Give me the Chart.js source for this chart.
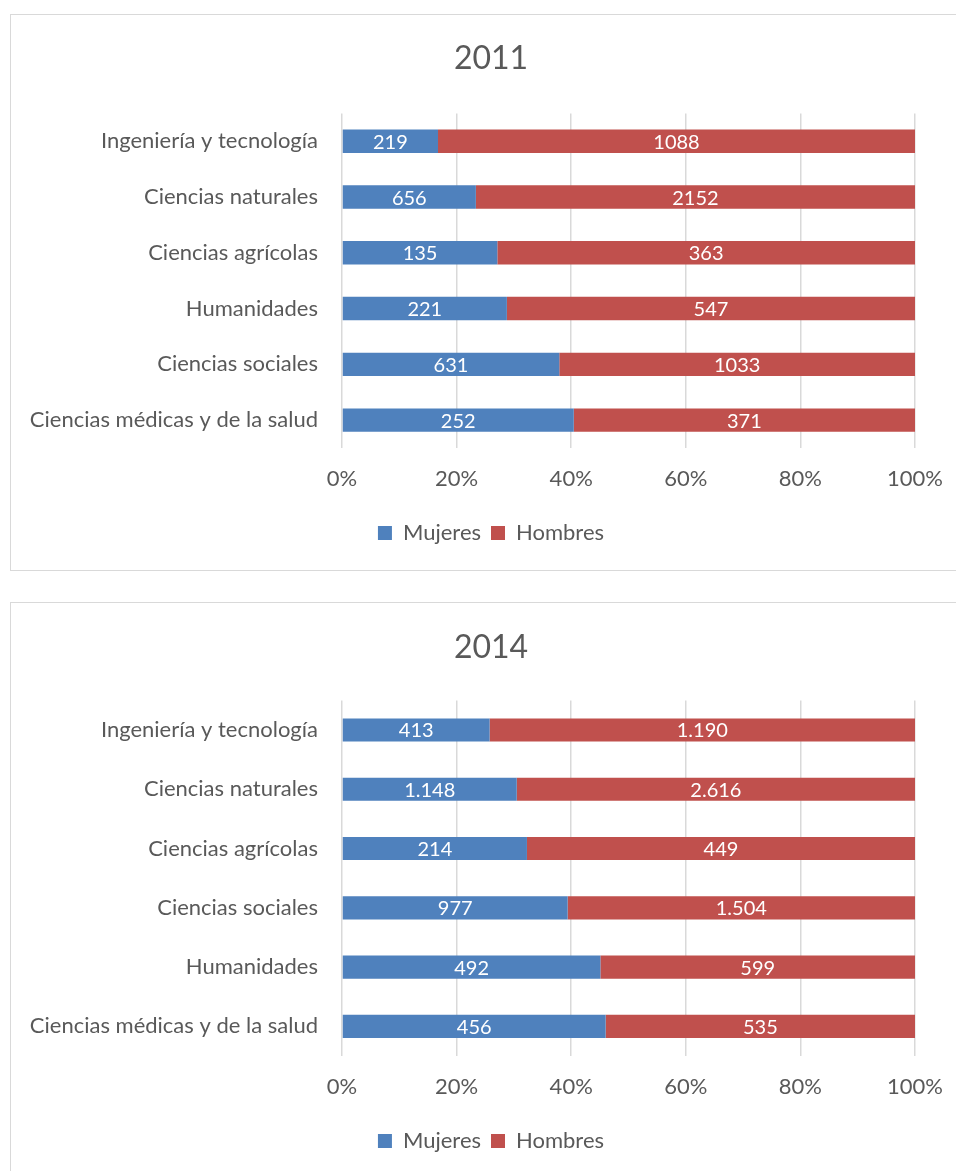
<!DOCTYPE html>
<html>
<head>
<meta charset="utf-8">
<script src="https://cdn.jsdelivr.net/npm/chart.js@4.4.1/dist/chart.umd.min.js"></script>
<style>
  body { margin: 0; background: #fff; width: 956px; height: 1171px; overflow: hidden; position: relative; }
  .box { position: absolute; left: 10px; width: 960px; border: 1.5px solid #d9d9d9; box-sizing: border-box; }
  .wrap { position: absolute; left: 0; width: 956px; }
</style>
</head>
<body>
<div class="box" style="top:14px;height:557px;"></div>
<div class="box" style="top:602px;height:600px;"></div>
<div class="wrap" style="top:14px;height:556px;"><canvas id="chart2011"></canvas></div>
<div class="wrap" style="top:603px;height:568px;"><canvas id="chart2014"></canvas></div>
<script>
// categories and values (top to bottom)
const cats2011 = ["Ingeniería y tecnología", "Ciencias naturales", "Ciencias agrícolas", "Humanidades", "Ciencias sociales", "Ciencias médicas y de la salud"];
const mujeres2011 = [219, 656, 135, 221, 631, 252];
const hombres2011 = [1088, 2152, 363, 547, 1033, 371];

const cats2014 = ["Ingeniería y tecnología", "Ciencias naturales", "Ciencias agrícolas", "Ciencias sociales", "Humanidades", "Ciencias médicas y de la salud"];
const mujeres2014 = [413, 1148, 214, 977, 492, 456];
const hombres2014 = [1190, 2616, 449, 1504, 599, 535];

const xTicks = ["0%", "20%", "40%", "60%", "80%", "100%"];

const FONT = "Lato, 'Open Sans', sans-serif";
const TEXT = "#595959";

// share of each row, so bars fill 100%
const pct = function (a, b) {
	return a.map(function (v, i) {
		return (v / (v + b[i])) * 100;
	});
};

// white value labels in the middle of each bar segment
const barLabels = {
	id: "barLabels",
	afterDatasetsDraw(chart) {
		const ctx = chart.ctx;
		ctx.save();
		ctx.fillStyle = "#fff";
		ctx.font = "20px " + FONT;
		ctx.textAlign = "center";
		ctx.textBaseline = "middle";
		chart.data.datasets.forEach(function (ds, di) {
			chart.getDatasetMeta(di).data.forEach(function (bar, i) {
				ctx.fillText(ds.fmt(ds.raw[i]), (bar.x + bar.base) / 2, bar.y + 1);
			});
		});
		ctx.restore();
	},
};

// the original chart box runs past the right edge, so title and legend
// are centred a bit right of the canvas middle
const shiftBlocks = {
	id: "shiftBlocks",
	afterLayout(chart) {
		chart.titleBlock.left = 67;
		chart.legend.left = 67;
	},
};

function makeChart(id, year, cats, muj, hom, fmt, opt) {
	const ctx = document.getElementById(id).getContext("2d");
	return new Chart(ctx, {
		type: "bar",
		data: {
			labels: cats,
			datasets: [
				{
					label: "Mujeres",
					data: pct(muj, hom),
					raw: muj,
					fmt: fmt,
					backgroundColor: "#4f81bd",
					borderWidth: 0,
					barPercentage: opt.bar,
					categoryPercentage: 1,
				},
				{
					label: "Hombres",
					data: pct(hom, muj),
					raw: hom,
					fmt: fmt,
					backgroundColor: "#c0504d",
					borderWidth: 0,
					barPercentage: opt.bar,
					categoryPercentage: 1,
				},
			],
		},
		plugins: [barLabels, shiftBlocks],
		options: {
			indexAxis: "y",
			responsive: true,
			maintainAspectRatio: false,
			animation: false,
			layout: { padding: { left: 0, right: 41, top: 0, bottom: opt.padBottom } },
			plugins: {
				title: {
					display: true,
					text: year,
					color: TEXT,
					font: { family: FONT, size: 32, weight: "normal", lineHeight: 1.2 },
					padding: { top: 25, bottom: opt.titleBottom },
				},
				legend: {
					position: "bottom",
					labels: {
						color: TEXT,
						font: { family: FONT, size: 22 },
						boxWidth: 14,
						boxHeight: 14,
						padding: 10,
					},
				},
				tooltip: { enabled: false },
			},
			scales: {
				x: {
					stacked: true,
					min: 0,
					max: 100,
					border: { display: false },
					grid: { color: "#d9d9d9", lineWidth: 1.5, tickLength: 18, tickColor: "rgba(0,0,0,0)" },
					ticks: {
						stepSize: 20,
						color: TEXT,
						font: { family: FONT, size: 22 },
						padding: 0,
						callback: function (v) {
							return xTicks[v / 20];
						},
					},
					afterFit: function (scale) {
						scale.height = opt.xHeight;
					},
				},
				y: {
					stacked: true,
					border: { display: false },
					grid: { display: false, drawTicks: false },
					ticks: { color: TEXT, font: { family: FONT, size: 22 }, padding: 24 },
					afterFit: function (scale) {
						scale.width = 342;
					},
				},
			},
		},
	});
}

makeChart("chart2011", "2011", cats2011, mujeres2011, hombres2011,
	function (v) { return String(v); },
	{ bar: 0.42, padBottom: 16, titleBottom: 36, xHeight: 64 });

makeChart("chart2014", "2014", cats2014, mujeres2014, hombres2014,
	function (v) { return v.toLocaleString("de-DE"); },
	{ bar: 0.39, padBottom: 9, titleBottom: 34, xHeight: 64 });
</script>
</body>
</html>
